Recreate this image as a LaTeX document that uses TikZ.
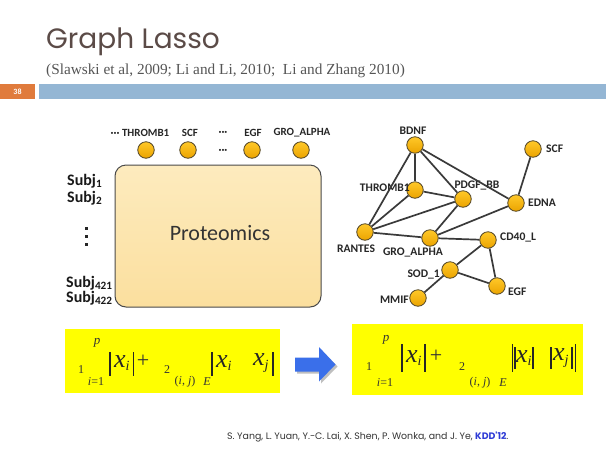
\documentclass[tikz,border=0pt]{standalone}
\usepackage{fontspec}
\setmainfont{Carlito}
\newfontfamily\titlefont{Poppins}
\newfontfamily\timesfont{Liberation Serif}
\usetikzlibrary{shadows}
\definecolor{titlecol}{HTML}{5B4B47}
\definecolor{subcol}{HTML}{555555}
\definecolor{barorange}{HTML}{E07B3C}
\definecolor{barblue}{HTML}{94B6D4}
\definecolor{boxtop}{HTML}{FDEBBE}
\definecolor{boxbot}{HTML}{FBDF9E}
\definecolor{boxborder}{HTML}{4A4A4A}
\definecolor{goldA}{HTML}{FFC829}
\definecolor{goldB}{HTML}{EBA400}
\definecolor{goldborder}{HTML}{4F4326}
\definecolor{edgecol}{HTML}{3A3A3A}
\definecolor{formulabg}{HTML}{FFFF00}
\definecolor{arrowblue}{HTML}{3A6FEA}
\definecolor{kddblue}{HTML}{2E3BD6}
\tikzset{
  gnode/.style={circle, minimum size=16.5pt, inner sep=0pt, top color=goldA, bottom color=goldB, draw=goldborder, line width=0.8pt},
  glabel/.style={font=\bfseries\fontsize{11.6}{12}\selectfont, inner sep=0pt, text=black!85},
  gedge/.style={draw=edgecol, line width=1.7pt},
  subjlabel/.style={font=\bfseries\fontsize{16}{17}\selectfont, anchor=west, inner sep=0pt, text=black!90},
  fsmall/.style={font=\timesfont\fontsize{12}{13}\selectfont, inner sep=0pt, text=black!80},
  fbig/.style={font=\timesfont\itshape\fontsize{26}{28}\selectfont, inner sep=0pt, text=black!85},
  fbar/.style={draw=black!85, line width=1.1pt},
  ybox/.style={fill=formulabg, draw=none}
}
\begin{document}
\begin{tikzpicture}[x=1pt,y=-1pt]
\useasboundingbox (0,0) rectangle (606,451);
\fill[white] (0,0) rectangle (606,451);

% title
\node[anchor=base west, inner sep=0pt, font=\titlefont\fontsize{28}{30}\selectfont, text=titlecol] (title) at (46,48) {Graph Lasso};
\node[anchor=base west, inner sep=0pt, font=\timesfont\fontsize{15.3}{17}\selectfont, text=subcol] (subtitle) at (46,74) {(Slawski et al, 2009; Li and Li, 2010;\ \ Li and Zhang 2010)};

% slide bar
\fill[barorange] (0,84) rectangle (35,99);
\fill[barblue] (39,84) rectangle (606,99);
\node[font=\bfseries\fontsize{8}{9}\selectfont, text=white, inner sep=0pt] (pagenum) at (17.5,91.5) {38};

% proteomics box
\node[draw=boxborder, line width=1pt, rounded corners=11pt, top color=boxtop, bottom color=boxbot,
      minimum width=206pt, minimum height=142pt, inner sep=0pt] (prot) at (218,236) {};
\node[font=\fontsize{22}{24}\selectfont, text=black!80, inner sep=0pt] (protlabel) at (220,233) {Proteomics};

% top protein circles
\node[gnode] (t1) at (146,150) {};
\node[gnode] (t2) at (188,150) {};
\node[gnode] (t3) at (252,150) {};
\node[gnode] (t4) at (301,150) {};
\node[glabel, font=\bfseries\fontsize{11}{12}\selectfont] (lt1) at (140,133) {··· THROMB1};
\node[glabel, font=\bfseries\fontsize{11}{12}\selectfont] (lt2) at (190,133) {SCF};
\node[glabel, font=\bfseries\fontsize{11}{12}\selectfont] (ldots1) at (223,133) {···};
\node[glabel, font=\bfseries\fontsize{11}{12}\selectfont] (ldots2) at (223,151) {···};
\node[glabel, font=\bfseries\fontsize{11}{12}\selectfont] (lt3) at (253,133) {EGF};
\node[glabel, font=\bfseries\fontsize{11}{12}\selectfont] (lt4) at (302,133) {GRO\_ALPHA};

% subjects
\node[subjlabel] (s1) at (67,181) {Subj\textsubscript{1}};
\node[subjlabel] (s2) at (67,198) {Subj\textsubscript{2}};
\fill[black!85] (84.5,226.5) rectangle (87.5,229.5);
\fill[black!85] (84.5,234.5) rectangle (87.5,237.5);
\fill[black!85] (84.5,242.5) rectangle (87.5,245.5);
\node[subjlabel] (s421) at (66,283) {Subj\textsubscript{421}};
\node[subjlabel] (s422) at (66,298) {Subj\textsubscript{422}};

% graph nodes
\node[gnode] (bdnf) at (415,145) {};
\node[gnode] (scf) at (533,149) {};
\node[gnode] (thromb) at (415,190) {};
\node[gnode] (pdgf) at (463,199) {};
\node[gnode] (edna) at (516,203) {};
\node[gnode] (rantes) at (365,232) {};
\node[gnode] (gro) at (430,238) {};
\node[gnode] (cd40) at (488,240) {};
\node[gnode] (sod) at (450,270) {};
\node[gnode] (egf) at (497,286) {};
\node[gnode] (mmif) at (418,298) {};

\node[glabel] (lbdnf) at (413,131) {BDNF};
\node[glabel, anchor=west] (lscf) at (546,149) {SCF};
\node[glabel, anchor=east] (lthromb) at (410,188) {THROMB1};
\node[glabel] (lpdgf) at (477,186) {PDGF\_BB};
\node[glabel, anchor=west] (ledna) at (528,203) {EDNA};
\node[glabel] (lrantes) at (356,249) {RANTES};
\node[glabel] (lgro) at (413,253) {GRO\_ALPHA};
\node[glabel, anchor=west] (lcd40) at (500,238) {CD40\_L};
\node[glabel, anchor=east] (lsod) at (440,274) {SOD\_1};
\node[glabel, anchor=west] (legf) at (508,292) {EGF};
\node[glabel, anchor=east] (lmmif) at (409,300) {MMIF};

% graph edges
\draw[gedge] (bdnf) -- (thromb);
\draw[gedge] (bdnf) -- (pdgf);
\draw[gedge] (bdnf) -- (edna);
\draw[gedge] (bdnf) -- (rantes);
\draw[gedge] (scf) -- (edna);
\draw[gedge] (thromb) -- (pdgf);
\draw[gedge] (thromb) -- (rantes);
\draw[gedge] (pdgf) -- (rantes);
\draw[gedge] (pdgf) -- (gro);
\draw[gedge] (edna) -- (gro);
\draw[gedge] (rantes) -- (gro);
\draw[gedge] (gro) -- (cd40);
\draw[gedge] (cd40) -- (sod);
\draw[gedge] (cd40) -- (egf);
\draw[gedge] (sod) -- (egf);
\draw[gedge] (sod) -- (mmif);

% left formula
\node[ybox, minimum width=215pt, minimum height=64pt, inner sep=0pt] (fleft) at (172.5,361) {};
\node[fsmall] (la1) at (81,370) {1};
\node[fsmall, font=\timesfont\itshape\fontsize{13}{14}\selectfont] (lp) at (97,343) {p};
\node[fsmall] (li1) at (96,382) {\textit{i}=1};
\draw[fbar] (110,352) -- (110,376);
\node[fbig] (lxi) at (122,363) {x\textsubscript{\fontsize{14}{14}\selectfont i}};
\draw[fbar] (133.5,352) -- (133.5,376);
\node[fsmall, font=\timesfont\fontsize{22}{24}\selectfont] (lplus) at (143,361) {+};
\node[fsmall] (la2) at (167,370) {2};
\node[fsmall] (lij) at (185,382) {(\textit{i}, \textit{j})};
\node[fsmall, font=\timesfont\itshape\fontsize{12}{13}\selectfont] (lE) at (207,382) {E};
\draw[fbar] (212,352) -- (212,376);
\node[fbig] (lxi2) at (224,363) {x\textsubscript{\fontsize{14}{14}\selectfont i}};
\node[fbig] (lxj) at (261,363) {x\textsubscript{\fontsize{14}{14}\selectfont j}};
\draw[fbar] (273,352) -- (273,376);

% arrow
\fill[black!25] (297,359.5) -- (321,359.5) -- (321,349.5) -- (337.5,366.5) -- (321,383.5) -- (321,373.5) -- (297,373.5) -- cycle;
\fill[arrowblue] (295,357.5) -- (319,357.5) -- (319,347) -- (335.5,364.5) -- (319,381.5) -- (319,371.5) -- (295,371.5) -- cycle;
\coordinate (arrowtip) at (335.5,364.5);

% right formula
\node[ybox, minimum width=231pt, minimum height=71pt, inner sep=0pt] (fright) at (467.5,359.5) {};
\node[fsmall] (ra1) at (369,367) {1};
\node[fsmall, font=\timesfont\itshape\fontsize{13}{14}\selectfont] (rp) at (386,340) {p};
\node[fsmall] (ri1) at (385,383) {\textit{i}=1};
\draw[fbar] (402,344) -- (402,372);
\node[fbig] (rxi) at (414,358) {x\textsubscript{\fontsize{14}{14}\selectfont i}};
\draw[fbar] (425,344) -- (425,372);
\node[fsmall, font=\timesfont\fontsize{22}{24}\selectfont] (rplus) at (436,356) {+};
\node[fsmall] (ra2) at (462,367) {2};
\node[fsmall] (rij) at (480,383) {(\textit{i}, \textit{j})};
\node[fsmall, font=\timesfont\itshape\fontsize{12}{13}\selectfont] (rE) at (503,383) {E};
\draw[fbar] (512.5,344) -- (512.5,372);
\draw[fbar] (515,347) -- (515,369);
\node[fbig] (rxi2) at (524,358) {x\textsubscript{\fontsize{14}{14}\selectfont i}};
\draw[fbar] (533,347) -- (533,369);
\draw[fbar] (551,347) -- (551,369);
\node[fbig] (rxj) at (561,358) {x\textsubscript{\fontsize{14}{14}\selectfont j}};
\draw[fbar] (572,347) -- (572,369);
\draw[fbar] (575.5,344) -- (575.5,372);

% citation
\node[anchor=west, inner sep=0pt, font=\titlefont\fontsize{9.4}{11}\selectfont, text=black!80] (cite) at (227,437)
  {S. Yang, L. Yuan, Y.-C. Lai, X. Shen, P. Wonka, and J. Ye, {\bfseries\color{kddblue}KDD'12}.};
\end{tikzpicture}
\end{document}
